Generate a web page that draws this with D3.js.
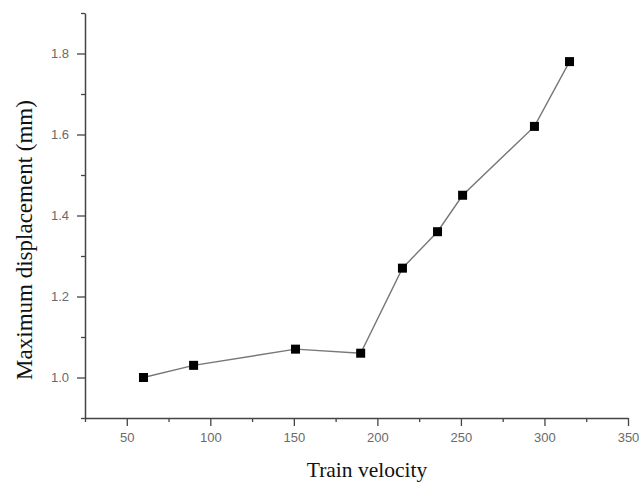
<!DOCTYPE html>
<html>
<head>
<meta charset="utf-8">
<script src="https://cdn.jsdelivr.net/npm/d3@7"></script>
<style>
  body { margin: 0; background: #fff; }
  .tick text { font-family: Arial, "Liberation Sans", sans-serif; font-size: 13px; fill: #6a6a6a; }
</style>
</head>
<body>
<div id="chart"></div>
<script>
var velocity = [60, 90, 151, 190, 215, 236, 251, 294, 315];
var displacement = [1.00, 1.03, 1.07, 1.06, 1.27, 1.36, 1.45, 1.62, 1.78];
var xTicks = [50, 100, 150, 200, 250, 300, 350];
var xMinor = [25, 75, 125, 175, 225, 275, 325];
var yTicks = [1.0, 1.2, 1.4, 1.6, 1.8];
var yMinor = [0.9, 1.1, 1.3, 1.5, 1.7, 1.9];

var width = 639, height = 487;
var plotLeft = 85, plotRight = 628, plotTop = 13, plotBottom = 418;

var svg = d3.select("#chart").append("svg")
    .attr("width", width)
    .attr("height", height);

var x = d3.scaleLinear().domain([25, 350]).range([plotLeft, plotRight]);
var y = d3.scaleLinear().domain([0.9, 1.9]).range([plotBottom, plotTop]);

// minor ticks first, no labels
svg.append("g")
    .attr("transform", "translate(0," + plotBottom + ")")
    .call(d3.axisBottom(x).tickValues(xMinor).tickSize(4).tickFormat(""))
    .call(function(g) { g.select(".domain").remove(); })
    .selectAll("line").attr("stroke", "#444").attr("stroke-width", 1.3);

svg.append("g")
    .attr("transform", "translate(" + plotLeft + ",0)")
    .call(d3.axisLeft(y).tickValues(yMinor).tickSize(4).tickFormat(""))
    .call(function(g) { g.select(".domain").remove(); })
    .selectAll("line").attr("stroke", "#444").attr("stroke-width", 1.3);

var xAxis = svg.append("g")
    .attr("transform", "translate(0," + plotBottom + ")")
    .call(d3.axisBottom(x).tickValues(xTicks).tickSize(8).tickSizeOuter(0).tickPadding(7));
xAxis.select(".domain").attr("stroke", "#444").attr("stroke-width", 1.5);
xAxis.selectAll("line").attr("stroke", "#444").attr("stroke-width", 1.3);

var yAxis = svg.append("g")
    .attr("transform", "translate(" + plotLeft + ",0)")
    .call(d3.axisLeft(y).tickValues(yTicks).tickSize(8).tickSizeOuter(0).tickPadding(8)
        .tickFormat(d3.format(".1f")));
yAxis.select(".domain").attr("stroke", "#444").attr("stroke-width", 1.5);
yAxis.selectAll("line").attr("stroke", "#444").attr("stroke-width", 1.3);

// data line
var pts = velocity.map(function(v, i) { return [v, displacement[i]]; });
var line = d3.line()
    .x(function(d) { return x(d[0]); })
    .y(function(d) { return y(d[1]); });

svg.append("path")
    .datum(pts)
    .attr("d", line)
    .attr("fill", "none")
    .attr("stroke", "#777")
    .attr("stroke-width", 1.4);

var size = 9;
svg.selectAll("rect.pt").data(pts).enter()
    .append("rect")
    .attr("class", "pt")
    .attr("x", function(d) { return x(d[0]) - size / 2; })
    .attr("y", function(d) { return y(d[1]) - size / 2; })
    .attr("width", size)
    .attr("height", size)
    .attr("fill", "#000");

// axis titles
svg.append("text")
    .attr("x", 367)
    .attr("y", 477)
    .attr("text-anchor", "middle")
    .attr("font-family", "'Liberation Serif', 'Times New Roman', serif")
    .attr("font-size", "21.5px")
    .attr("fill", "#111")
    .text("Train velocity");

svg.append("text")
    .attr("transform", "translate(32,240) rotate(-90)")
    .attr("text-anchor", "middle")
    .attr("font-family", "'Liberation Serif', 'Times New Roman', serif")
    .attr("font-size", "23px")
    .attr("fill", "#111")
    .text("Maximum displacement (mm)");
</script>
</body>
</html>
